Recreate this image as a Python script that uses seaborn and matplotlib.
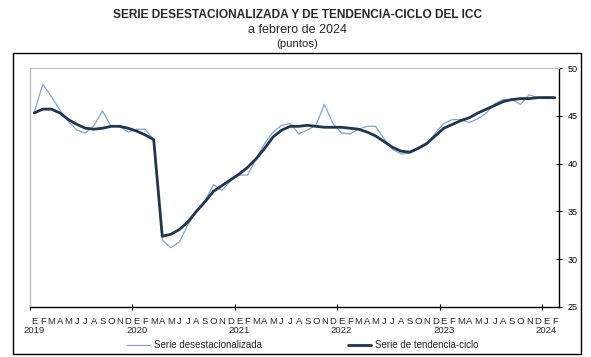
import numpy as np
import pandas as pd
import seaborn as sns
import matplotlib
matplotlib.use("Agg")
import matplotlib.pyplot as plt
from matplotlib.patches import Rectangle
from matplotlib.lines import Line2D

# ---- data (monthly, Jan 2019 - Feb 2024) ----
years = ["2019", "2020", "2021", "2022", "2023", "2024"]
month_letters = ["E", "F", "M", "A", "M", "J", "J", "A", "S", "O", "N", "D"]

desestacionalizada = [
    45.4, 48.3, 47.0, 45.6, 44.4, 43.5, 43.2, 44.0, 45.5, 43.9, 43.9, 43.3,   # 2019
    43.6, 43.6, 42.5, 32.0, 31.2, 31.8, 33.6, 35.0, 36.1, 37.8, 37.2, 38.2,   # 2020
    38.8, 38.8, 40.5, 42.1, 43.3, 44.0, 44.2, 43.1, 43.5, 44.0, 46.2, 44.2,   # 2021
    43.2, 43.1, 43.6, 43.9, 43.9, 42.6, 41.5, 41.0, 41.1, 41.5, 42.0, 43.2,   # 2022
    44.2, 44.6, 44.6, 44.3, 44.7, 45.3, 46.3, 46.7, 46.7, 46.2, 47.2, 46.9,   # 2023
    47.0, 46.9,                                                               # 2024
]
tendencia_ciclo = [
    45.3, 45.7, 45.7, 45.3, 44.6, 44.1, 43.7, 43.6, 43.7, 43.9, 43.9, 43.7,   # 2019
    43.4, 43.0, 42.5, 32.4, 32.6, 33.1, 33.9, 35.0, 36.0, 37.1, 37.7, 38.3,   # 2020
    38.9, 39.6, 40.5, 41.6, 42.8, 43.5, 43.9, 43.9, 44.0, 43.9, 43.8, 43.8,   # 2021
    43.8, 43.7, 43.6, 43.3, 42.9, 42.3, 41.7, 41.3, 41.2, 41.6, 42.1, 42.9,   # 2022
    43.7, 44.1, 44.5, 44.8, 45.3, 45.7, 46.1, 46.5, 46.7, 46.8, 46.8, 46.9,   # 2023
    46.9, 46.9,                                                               # 2024
]
y_ticks = [25, 30, 35, 40, 45, 50]
legend_labels = ["Serie desestacionalizada", "Serie de tendencia-ciclo"]

n = len(desestacionalizada)
df = pd.DataFrame({
    "pos": np.arange(n) + 0.5,
    legend_labels[0]: desestacionalizada,
    legend_labels[1]: tendencia_ciclo,
})

sns.set_theme(style="white")
plt.rcParams["font.family"] = ["Liberation Sans", "DejaVu Sans"]

c_des = "#7FA4D8"
c_tc = "#1F3550"

fig = plt.figure(figsize=(5.91, 3.57), dpi=100)
ax = fig.add_axes([30 / 591, 1 - 307 / 357, (559 - 30) / 591, (307 - 68) / 357])

sns.lineplot(data=df, x="pos", y=legend_labels[0], ax=ax, color=c_des, lw=0.9)
sns.lineplot(data=df, x="pos", y=legend_labels[1], ax=ax, color=c_tc, lw=2.0)

ax.set_xlim(0, n)
ax.set_ylim(25, 50)
ax.set_xlabel("")
ax.set_ylabel("")

# spines
for s in ["left", "top"]:
    ax.spines[s].set_color("#BFBFBF")
    ax.spines[s].set_linewidth(0.9)
for s in ["right", "bottom"]:
    ax.spines[s].set_color("black")
    ax.spines[s].set_linewidth(1.0)

# y axis on the right
ax.yaxis.tick_right()
ax.set_yticks(y_ticks)
ax.set_yticklabels([str(v) for v in y_ticks])
ax.tick_params(axis="y", which="major", right=True, left=False, direction="inout",
               length=4, width=0.8, labelsize=6.5, pad=4, colors="black")

# x axis: year boundaries as major ticks, month letters as minor tick labels
ax.set_xticks(np.arange(0, n, 12))
ax.set_xticklabels([])
ax.tick_params(axis="x", which="major", bottom=True, direction="inout", length=5,
               width=0.8, color="black")
ax.set_xticks(np.arange(n) + 0.5, minor=True)
ax.set_xticklabels([month_letters[i % 12] for i in range(n)], minor=True)
ax.tick_params(axis="x", which="minor", length=0, labelsize=6.8, pad=7)

for k, yr in enumerate(years):
    ax.text(k * 12 + 0.5, -0.078, yr, transform=ax.get_xaxis_transform(),
            ha="center", va="top", fontsize=6.8)

if ax.get_legend() is not None:
    ax.get_legend().remove()

# titles
fig.text(0.503, 1 - 15 / 357, "SERIE DESESTACIONALIZADA Y DE TENDENCIA-CICLO DEL ICC",
         ha="center", va="center", fontsize=8.6, fontweight="bold")
fig.text(0.503, 1 - 30 / 357, "a febrero de 2024", ha="center", va="center", fontsize=9)
fig.text(0.503, 1 - 44 / 357, "(puntos)", ha="center", va="center", fontsize=8.2)

# outer frame
fig.patches.append(Rectangle((13 / 591, 1 - 354 / 357), 568 / 591, 301 / 357,
                             transform=fig.transFigure, fill=False,
                             edgecolor="black", linewidth=1.0))

handles = [Line2D([], [], color=c_des, lw=0.9), Line2D([], [], color=c_tc, lw=2.0)]
fig.legend(handles, legend_labels, loc="center", bbox_to_anchor=(0.512, 1 - 345 / 357),
           ncol=2, frameon=False, fontsize=7, handlelength=2.4, handletextpad=0.4,
           columnspacing=8.8)

fig.savefig("out.png", dpi=100)
